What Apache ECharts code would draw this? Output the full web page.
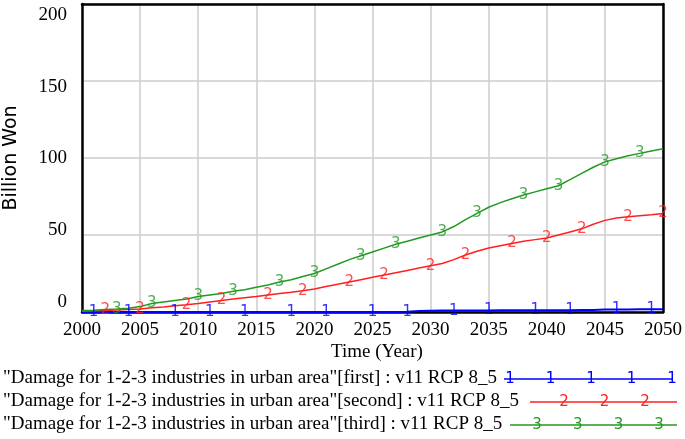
<!DOCTYPE html>
<html>
<head>
<meta charset="utf-8">
<script src="https://cdn.jsdelivr.net/npm/echarts@6/dist/echarts.min.js"></script>
<style>html,body{margin:0;padding:0;background:#fff;}#c{width:685px;height:439px;}</style>
</head>
<body>
<div id="c"></div>
<script>
// ---- data ----
const years = [];
for (let y = 2000; y <= 2050; y++) years.push(y);
const firstVals = [
  0, 0, 0, 0, 0, 0, 0, 0, 0, 0,
  0, 0, 0, 0, 0, 0, 0, 0, 0, 0,
  0, 0, 0, 0, 0, 0, 0, 0, 0.1, 0.6,
  0.8, 0.9, 0.9, 1.0, 1.0, 1.0, 1.1, 1.1, 1.1, 1.2,
  1.2, 1.2, 1.2, 1.3, 1.3, 1.6, 1.7, 1.7, 1.8, 1.8,
  1.8
];
const secondVals = [
  0.5, 0.7, 1, 1.3, 1.7, 2, 2.7, 3.3, 4, 4.7,
  5.5, 6.5, 7.5, 8.5, 9.3, 10, 11, 12, 12.8, 13.8,
  15, 16.5, 18, 19.5, 21, 22.5, 24, 25.5, 27, 28.5,
  30, 31.5, 34, 37, 39.5, 41.5, 43, 44.5, 46, 47,
  48, 50, 52, 54, 57, 59.5, 61, 61.8, 62.5, 63.2,
  64
];
const thirdVals = [
  1, 1.2, 1.6, 2, 2.5, 3.5, 5.5, 6.5, 7.5, 8.5,
  10, 11, 12, 13.5, 14.5, 16, 17.5, 19.5, 21, 23,
  25, 28, 31, 34, 36.5, 39, 41.5, 44, 46, 48,
  50, 52, 55.5, 60, 64, 68, 71, 73.5, 76, 78,
  80, 82, 86, 90, 94, 97.5, 99.5, 101.5, 103, 104.5,
  106
];
const markYears1 = [2001, 2004, 2008, 2011, 2014, 2018, 2021, 2025, 2028, 2032, 2035, 2039, 2042, 2046, 2049];
const markYears2 = [2002, 2005, 2009, 2012, 2016, 2019, 2023, 2026, 2030, 2033, 2037, 2040, 2043, 2047, 2050];
const markYears3 = [2003, 2006, 2010, 2013, 2017, 2020, 2024, 2027, 2031, 2034, 2038, 2041, 2045, 2048];
const yTicks = [0, 50, 100, 150, 200];
const legendLabels = [
  '"Damage for 1-2-3 industries in urban area"[first] : v11 RCP 8_5',
  '"Damage for 1-2-3 industries in urban area"[second] : v11 RCP 8_5',
  '"Damage for 1-2-3 industries in urban area"[third] : v11 RCP 8_5'
];
const digits = ['1', '2', '3'];
const colors = ['#0000ff', '#ff2020', '#229922'];

// ---- build ----
const seriesVals = [firstVals, secondVals, thirdVals];
const markYears = [markYears1, markYears2, markYears3];
const series = [];
seriesVals.forEach((vals, i) => {
  series.push({
    type: 'line',
    data: years.map((y, k) => [y, vals[k]]),
    showSymbol: false,
    symbol: 'none',
    lineStyle: { color: colors[i], width: i === 0 ? 2 : 1.5 },
    z: 3 + i,
    silent: true
  });
  series.push({
    type: 'scatter',
    data: markYears[i].map(y => [y, vals[y - 2000]]),
    symbolSize: 1,
    itemStyle: { color: 'rgba(0,0,0,0)' },
    label: {
      show: true, position: 'inside', formatter: digits[i],
      color: colors[i], fontSize: 15, fontFamily: 'DejaVu Sans'
    },
    z: 6 + i,
    silent: true
  });
});

// legend graphics
const graphic = [];
const legRows = [
  { y: 378, x0: 504, x1: 673, m0: 510, step: 40.5, n: 5 },
  { y: 401, x0: 530, x1: 677, m0: 564, step: 40.5, n: 3 },
  { y: 424, x0: 510, x1: 677, m0: 537, step: 40.7, n: 4 }
];
legRows.forEach((r, i) => {
  graphic.push({
    type: 'text', x: 3, y: r.y,
    style: { text: legendLabels[i], font: '19px "Liberation Serif"', fill: '#000', verticalAlign: 'middle' }
  });
  graphic.push({
    type: 'line', shape: { x1: r.x0, y1: r.y + 1, x2: r.x1, y2: r.y + 1 },
    style: { stroke: colors[i], lineWidth: 1.5 }
  });
  for (let k = 0; k < r.n; k++) {
    graphic.push({
      type: 'text', x: r.m0 + k * r.step, y: r.y + 1,
      style: { text: digits[i], font: '15px "DejaVu Sans"', fill: colors[i], align: 'center', verticalAlign: 'middle' }
    });
  }
});
graphic.push({
  type: 'text', x: 11, y: 158, rotation: Math.PI / 2,
  style: { text: 'Billion Won', font: '19px "DejaVu Sans"', fill: '#000', align: 'center', verticalAlign: 'middle' }
});
graphic.push({
  type: 'text', x: 377, y: 352,
  style: { text: 'Time (Year)', font: '19px "Liberation Serif"', fill: '#000', align: 'center', verticalAlign: 'middle' }
});

const frameLine = { show: true, onZero: false, lineStyle: { color: '#000', width: 2.5 } };
const chart = echarts.init(document.getElementById('c'));
chart.setOption({
  animation: false,
  backgroundColor: '#fff',
  grid: { left: 82, right: 21, top: 4, bottom: 127, show: false },
  xAxis: [
    {
      type: 'value', min: 2000, max: 2050, interval: 5,
      axisLine: frameLine,
      axisTick: { show: false },
      axisLabel: { color: '#000', fontSize: 19, fontFamily: 'Liberation Serif', margin: 9, formatter: v => String(v) },
      splitLine: { show: true, lineStyle: { color: '#cccccc', width: 1.5 } }
    },
    {
      type: 'value', position: 'top', min: 2000, max: 2050,
      axisLine: frameLine, axisTick: { show: false }, axisLabel: { show: false }, splitLine: { show: false }
    }
  ],
  yAxis: [
    {
      type: 'value', min: 0, max: 200, interval: 50,
      axisLine: frameLine,
      axisTick: { show: false },
      axisLabel: { show: false },
      splitLine: { show: true, lineStyle: { color: '#cccccc', width: 1.5 } }
    },
    {
      type: 'value', position: 'left', min: -6.97, max: 207.66,
      axisLine: { show: false, onZero: false }, axisTick: { show: false },
      splitLine: { show: false },
      axisLabel: { customValues: yTicks, color: '#000', fontSize: 19, fontFamily: 'Liberation Serif', margin: 15 }
    },
    {
      type: 'value', position: 'right', min: 0, max: 200,
      axisLine: frameLine, axisTick: { show: false }, axisLabel: { show: false }, splitLine: { show: false }
    }
  ],
  graphic: graphic,
  series: series
});
</script>
</body>
</html>
